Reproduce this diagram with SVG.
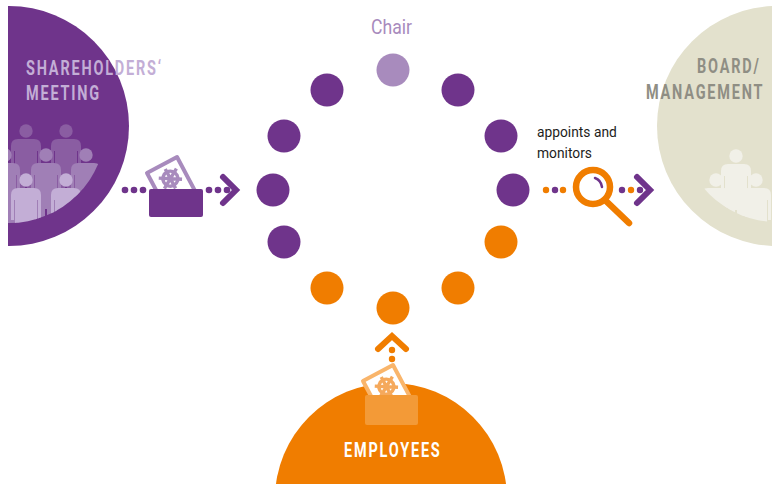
<svg xmlns="http://www.w3.org/2000/svg" xmlns:xlink="http://www.w3.org/1999/xlink" width="772" height="484" viewBox="0 0 772 484">
<style>
.p{fill:#6f348b}.o{fill:#f07d00}.c{fill:#a88bbd}
.head{font-family:"Roboto","Liberation Sans",sans-serif;font-size:21px;font-weight:700;letter-spacing:2.6px}
.note{font-family:"Roboto","Liberation Sans",sans-serif;font-size:15px;fill:#1d1d1b}
.chev{fill:none;stroke-width:6;stroke-linecap:round;stroke-linejoin:miter}
.paper{fill:#fff;stroke-width:4;stroke-linejoin:round}
.sym{fill:none;stroke-width:3.4}
</style>
<defs>
<g id="person">
<circle cx="0" cy="0" r="6.7"/>
<path d="M-8,8H8Q15,8 15,15V40H12V20H11V72H1V54H-1V72H-11V20H-12V40H-15V15Q-15,8 -8,8Z"/>
</g>
<g id="mark">
<circle cx="0" cy="0" r="7.5"/>
<path d="M-10,-6L10,6M10,-6L-10,6M0,-11V11"/>
</g>
<clipPath id="clipL"><circle cx="9" cy="126" r="97"/></clipPath>
<clipPath id="clipR"><circle cx="777" cy="126" r="96"/></clipPath>
<clipPath id="stripL"><rect x="8" y="0" width="200" height="484"/></clipPath>
</defs>
<g id="shareholders">
<circle class="p" cx="9" cy="126" r="120" clip-path="url(#stripL)"/>
<g clip-path="url(#stripL)"><g clip-path="url(#clipL)">
<g fill="#8a5da2"><use xlink:href="#person" x="26" y="131"/><use xlink:href="#person" x="66" y="131"/></g>
<g fill="#a07fb6"><use xlink:href="#person" x="5" y="155"/><use xlink:href="#person" x="46" y="155"/><use xlink:href="#person" x="86" y="155"/></g>
<g fill="#c3aed6"><use xlink:href="#person" x="26" y="180"/><use xlink:href="#person" x="66" y="180"/></g>
</g></g>
<text class="head" transform="translate(26,75) scale(.69,1)" fill="#c3aed6">SHAREHOLDERS‘</text>
<text class="head" transform="translate(26,100) scale(.69,1)" fill="#c3aed6">MEETING</text>
</g>
<g id="board">
<circle cx="777" cy="126" r="120" fill="#e3e1cd"/>
<g clip-path="url(#clipR)" fill="#f1f0e8">
<use xlink:href="#person" x="736" y="156"/>
<use xlink:href="#person" x="716" y="180"/>
<use xlink:href="#person" x="756" y="180"/>
</g>
<text class="head" transform="translate(697,73) scale(.69,1)" fill="#8f8e84">BOARD/</text>
<text class="head" transform="translate(646,99) scale(.69,1)" fill="#8f8e84">MANAGEMENT</text>
</g>
<g id="employees">
<circle class="o" cx="391" cy="499" r="116"/>
<text class="head" transform="translate(344,457) scale(.69,1)" fill="#fff">EMPLOYEES</text>
</g>
<g id="board-seats">
<circle class="c" cx="393" cy="70" r="16.5"/>
<circle class="p" cx="458" cy="90" r="16.5"/>
<circle class="p" cx="501" cy="136" r="16.5"/>
<circle class="p" cx="513" cy="190" r="16.5"/>
<circle class="o" cx="501" cy="242" r="16.5"/>
<circle class="o" cx="458" cy="288" r="16.5"/>
<circle class="o" cx="393" cy="308" r="16.5"/>
<circle class="o" cx="327" cy="288" r="16.5"/>
<circle class="p" cx="284" cy="242" r="16.5"/>
<circle class="p" cx="273" cy="190" r="16.5"/>
<circle class="p" cx="284" cy="136" r="16.5"/>
<circle class="p" cx="327" cy="90" r="16.5"/>
</g>
<text id="chair" x="371" y="34" fill="#a88bbd" style="font-family:Roboto,'Liberation Sans',sans-serif;font-size:20px" textLength="41" lengthAdjust="spacingAndGlyphs">Chair</text>
<g id="connectors">
<g class="p"><circle cx="125" cy="190" r="3.3"/><circle cx="134" cy="190" r="3.3"/><circle cx="143" cy="190" r="3.3"/><circle cx="209" cy="190" r="3.3"/><circle cx="218" cy="190" r="3.3"/><circle cx="227" cy="190" r="3.3"/></g>
<path class="chev" stroke="#6f348b" d="M223,177L236,190L223,203"/>
<circle class="o" cx="546" cy="190" r="3.2"/><circle class="p" cx="555" cy="190" r="3.2"/><circle class="o" cx="563" cy="190" r="3.2"/>
<circle class="p" cx="622" cy="190" r="3.2"/><circle class="o" cx="631" cy="190" r="3.2"/><circle class="p" cx="640" cy="190" r="3.2"/>
<path class="chev" stroke="#6f348b" d="M637,177L650,190L637,203"/>
<g class="o"><circle cx="392" cy="350" r="3.2"/><circle cx="392" cy="359" r="3.2"/></g>
<path class="chev" stroke="#f07d00" d="M378,349L392,336L406,349"/>
</g>
<g id="ballot-shareholders">
<g transform="translate(147,173) rotate(-28)">
<rect class="paper" stroke="#a88bbd" width="34" height="42"/>
<use xlink:href="#mark" class="sym" stroke="#a88bbd" x="18" y="16"/>
</g>
<rect class="p" x="149" y="189" width="54" height="28" rx="2"/>
</g>
<g id="ballot-employees">
<g transform="translate(363,381) rotate(-28)">
<rect class="paper" stroke="#f9b56b" width="34" height="42"/>
<use xlink:href="#mark" class="sym" stroke="#f5a95c" x="18" y="16"/>
</g>
<rect x="365" y="395" width="53" height="30" rx="2" fill="#f39a37"/>
</g>
<g id="magnifier">
<circle cx="593" cy="187" r="17" fill="#fff" stroke="#f07d00" stroke-width="6.5"/>
<path d="M606,201L629,223" stroke="#f07d00" stroke-width="6.5" stroke-linecap="round" fill="none"/>
<path d="M595,178Q601,180 602,187" stroke="#6f348b" stroke-width="2.5" stroke-linecap="round" fill="none"/>
</g>
<g id="appoints">
<text class="note" transform="translate(537,137) scale(.92,1)">appoints and</text>
<text class="note" transform="translate(537,158) scale(.92,1)">monitors</text>
</g>
</svg>
